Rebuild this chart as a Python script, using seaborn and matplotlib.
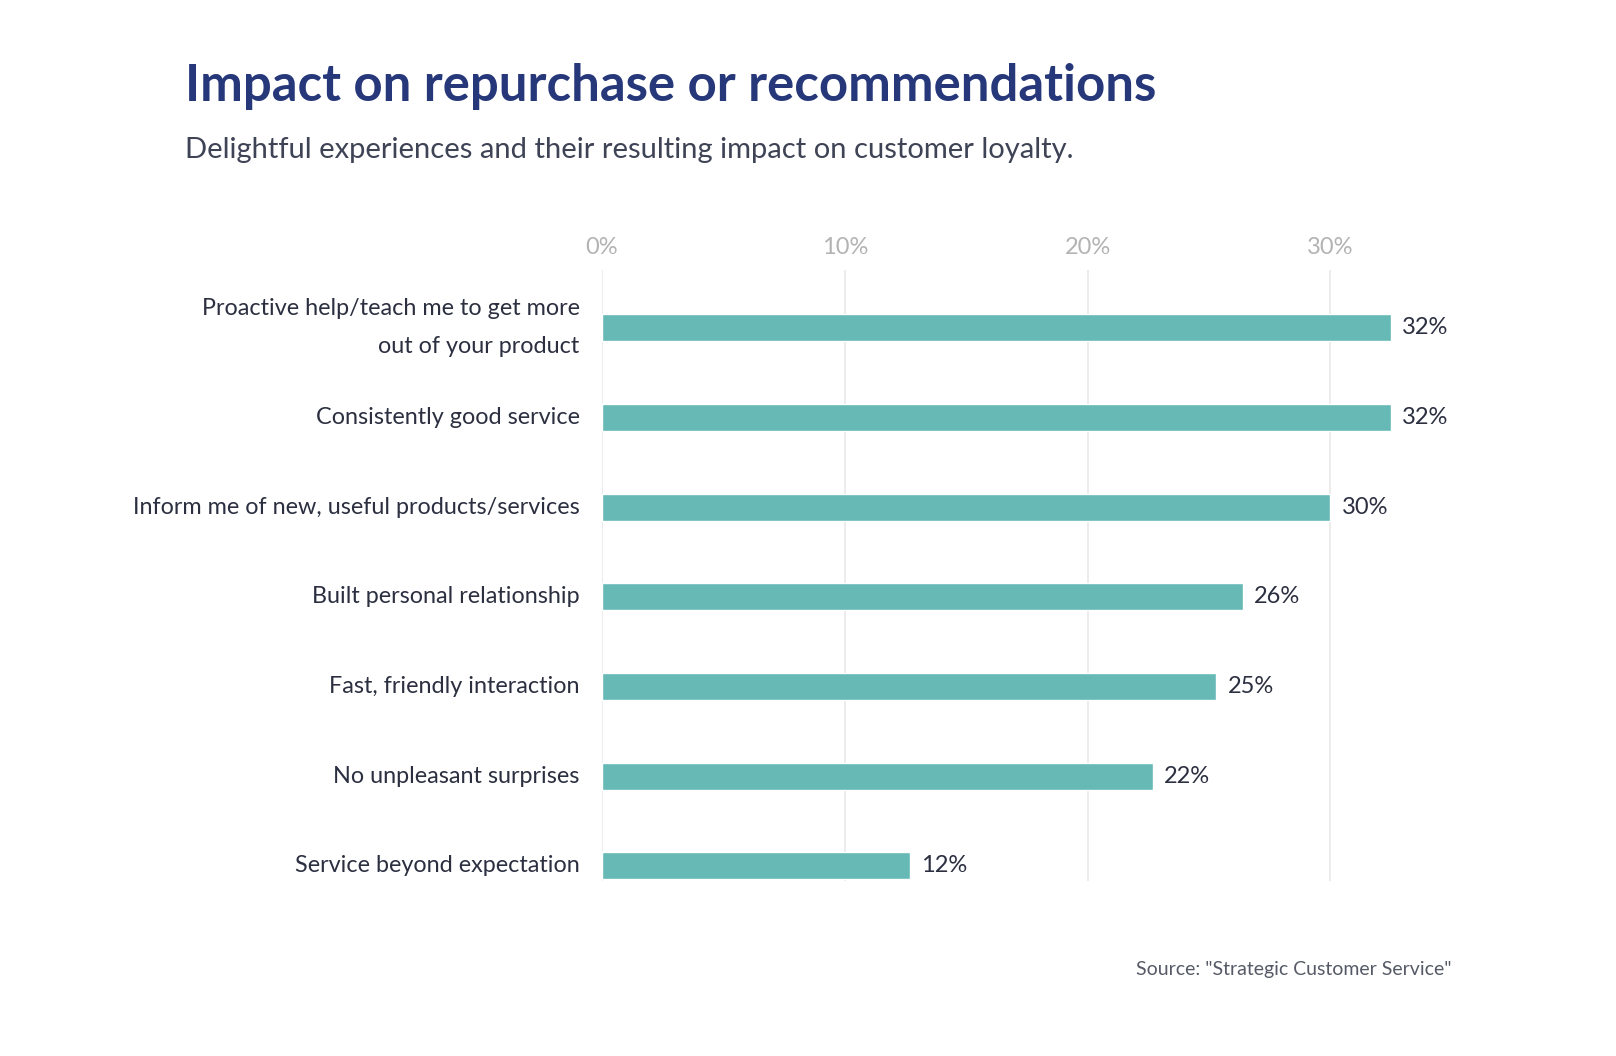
"""Horizontal bar chart: impact on repurchase or recommendations."""

import matplotlib.pyplot as plt
import matplotlib.ticker as mticker
import pandas as pd
import seaborn as sns

# --- data -------------------------------------------------------------------
experiences = [
    "Proactive help/teach me to get more\nout of your product",
    "Consistently good service",
    "Inform me of new, useful products/services",
    "Built personal relationship",
    "Fast, friendly interaction",
    "No unpleasant surprises",
    "Service beyond expectation",
]
share = [32.5, 32.5, 30.0, 26.4, 25.3, 22.7, 12.7]  # bar lengths as drawn
share_labels = ["32%", "32%", "30%", "26%", "25%", "22%", "12%"]
x_ticks = [0, 10, 20, 30]

TITLE = "Impact on repurchase or recommendations"
SUBTITLE = "Delightful experiences and their resulting impact on customer loyalty."
SOURCE = 'Source: "Strategic Customer Service"'

BAR_COLOR = "#67b9b6"
NAVY = "#26387a"
DARK = "#2b2f40"

sns.set_style("white")
plt.rcParams["font.family"] = ["Lato", "DejaVu Sans"]

df = pd.DataFrame({"experience": experiences, "share": share})

fig = plt.figure(figsize=(16.16, 10.56), dpi=100)
ax = fig.add_axes([0.3725, 0.1657, 0.5109, 0.5786])

sns.barplot(data=df, x="share", y="experience", orient="h",
            color=BAR_COLOR, saturation=1, width=0.3, ax=ax)

ax.set_xlim(0, 34)
ax.set_ylim(6.17, -0.643)

# grid lines
ax.set_xticks(x_ticks)
ax.grid(axis="x", color="#e9e9e9", linewidth=1.2)
ax.grid(axis="y", visible=False)
ax.set_axisbelow(True)
sns.despine(ax=ax, left=True, bottom=True, top=True, right=True)

# tick labels on top
ax.xaxis.tick_top()
ax.xaxis.set_major_formatter(mticker.FuncFormatter(lambda v, _: f"{v:.0f}%"))
ax.tick_params(axis="x", length=0, pad=9, labelsize=17, labelcolor="#b3b3b3")
ax.tick_params(axis="y", length=0, pad=16, labelsize=16.8, labelcolor=DARK)
for lbl in ax.get_yticklabels():
    lbl.set_linespacing(2.0)
    lbl.set_verticalalignment("center")
ax.set_xlabel("")
ax.set_ylabel("")

ax.bar_label(ax.containers[0], labels=share_labels, padding=8,
             fontsize=17, color=DARK)

fig.text(185 / 1616, 1 - 101 / 1056, TITLE, fontsize=36.6, fontweight="bold",
         color=NAVY, va="baseline")
fig.text(185 / 1616, 1 - 158 / 1056, SUBTITLE, fontsize=21, color="#3e4355",
         va="baseline")
fig.text(1451 / 1616, 1 - 975 / 1056, SOURCE, fontsize=14, color="#555a66",
         ha="right", va="baseline")

plt.savefig("out.png", dpi=100, facecolor="white")
